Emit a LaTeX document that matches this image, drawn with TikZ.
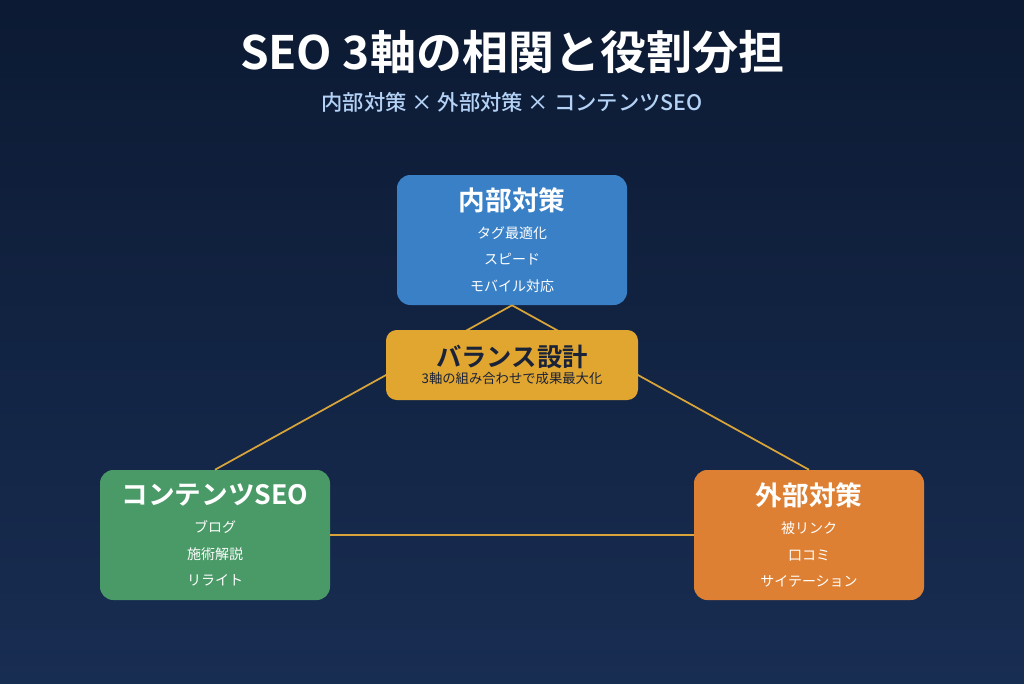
\documentclass[tikz,border=0pt]{standalone}
\usepackage{fontspec}
\setmainfont{Noto Sans CJK JP}
\newfontfamily\boldjp{Noto Sans CJK JP Bold}
\newfontfamily\medjp{Noto Sans CJK JP Medium}
\definecolor{bgtop}{HTML}{0C1A33}
\definecolor{bgbot}{HTML}{182D52}
\definecolor{inblue}{HTML}{3A80C6}
\definecolor{balyel}{HTML}{E0A630}
\definecolor{congrn}{HTML}{4A9A68}
\definecolor{extorg}{HTML}{DE8033}
\definecolor{linkyel}{HTML}{D9A53A}
\definecolor{subblue}{HTML}{B4D2F5}
\definecolor{darktxt}{HTML}{1A2238}
\newcommand{\boxhead}[1]{{\boldjp\fontsize{20}{24}\selectfont #1}\\[5pt]}
\tikzset{
  axisbox/.style={rounded corners=10pt, minimum width=172.5pt, minimum height=97.5pt, text=white, align=center, font=\fontsize{10.5}{16}\selectfont},
  balbox/.style={rounded corners=8pt, fill=balyel, minimum width=189pt, minimum height=52.5pt, text=darktxt, align=center},
  link/.style={draw=linkyel, line width=1.3pt}
}
\begin{document}
\begin{tikzpicture}[x=0.75pt,y=-0.75pt]
%background
\shade[top color=bgtop,bottom color=bgbot] (0,0) rectangle (1024,683);
\useasboundingbox (0,0) rectangle (1024,683);

%title
\node (title) at (512,52) {\boldjp\fontsize{34.5}{40}\selectfont\color{white}SEO 3軸の相関と役割分担};
\node (subtitle) at (512,102) {\medjp\fontsize{16}{19}\selectfont\color{subblue}内部対策 × 外部対策 × コンテンツSEO};

%axes
\node[axisbox, fill=inblue] (inner) at (512,240) {\boxhead{内部対策}
  タグ最適化\\[4pt]スピード\\[4pt]モバイル対応};
\node[axisbox, fill=congrn] (content) at (215,535) {\boxhead{コンテンツSEO}
  ブログ\\[4pt]施術解説\\[4pt]リライト};
\node[axisbox, fill=extorg] (outer) at (809,535) {\boxhead{外部対策}
  被リンク\\[4pt]口コミ\\[4pt]サイテーション};

%links
\draw[link] (inner.south) -- (content.north);
\draw[link] (inner.south) -- (outer.north);
\draw[link] (content.east) -- (outer.west);

%balance
\node[balbox] (balance) at (512,365) {{\boldjp\fontsize{19}{22}\selectfont バランス設計}\\[1pt]
  \fontsize{10}{12}\selectfont 3軸の組み合わせで成果最大化};
\end{tikzpicture}
\end{document}
